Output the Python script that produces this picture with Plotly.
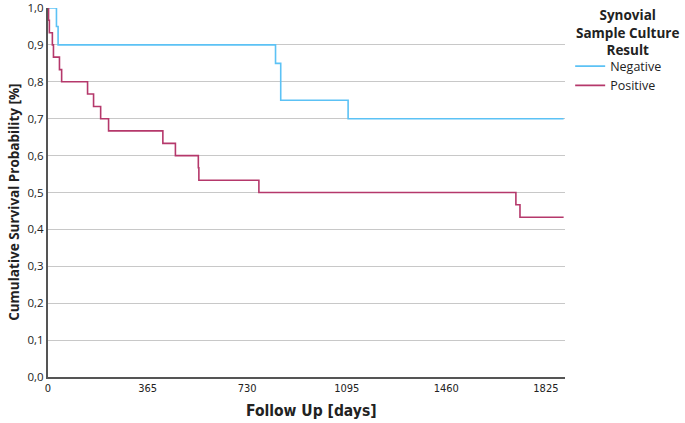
import plotly.graph_objects as go

# Kaplan-Meier step data
neg_days = [0, 31, 37, 834, 853, 1100, 1890]
neg_surv = [1.0, 0.95, 0.90, 0.85, 0.75, 0.70, 0.70]

pos_days = [0, 2, 5, 16, 20, 42, 50, 145, 167, 193, 222, 421, 467, 551, 553, 773, 1715, 1730, 1890]
pos_surv = [1.0, 0.967, 0.933, 0.900, 0.867, 0.833, 0.800, 0.767, 0.733, 0.700,
            0.667, 0.633, 0.600, 0.567, 0.533, 0.500, 0.467, 0.433, 0.433]

x_ticks = [0, 365, 730, 1095, 1460, 1825]
y_ticks = [0.0, 0.1, 0.2, 0.3, 0.4, 0.5, 0.6, 0.7, 0.8, 0.9, 1.0]
series_names = ["Negative", "Positive"]
legend_title_lines = ["Synovial", "Sample Culture", "Result"]
colors = ["#5cc2f5", "#b5386b"]

COND = "DejaVu Sans Condensed, Liberation Sans Narrow, sans-serif"

fig = go.Figure()
fig.add_trace(go.Scatter(x=neg_days, y=neg_surv, mode="lines", name=series_names[0],
                         line=dict(shape="hv", color=colors[0], width=1.6)))
fig.add_trace(go.Scatter(x=pos_days, y=pos_surv, mode="lines", name=series_names[1],
                         line=dict(shape="hv", color=colors[1], width=1.6)))

# legend title as one centered multi-line text
fig.add_annotation(text="<b>" + "<br>".join(legend_title_lines) + "</b>",
                   xref="paper", yref="paper", x=1.12, y=1.012, xanchor="center", yanchor="top",
                   align="center", showarrow=False, font=dict(size=13.5, color="#222"))

# axis titles
fig.add_annotation(text="<b>Follow Up [days]</b>", xref="paper", yref="paper",
                   x=0.51, y=-0.093, xanchor="center", yanchor="middle", showarrow=False,
                   font=dict(family=COND, size=15.5, color="#222"))
fig.add_annotation(text="<b>Cumulative Survival Probability [%]</b>", xref="paper", yref="paper",
                   x=-0.065, y=0.473, xanchor="center", yanchor="middle", textangle=-90,
                   showarrow=False, font=dict(size=13.5, color="#222"))

fig.update_layout(
    width=685, height=423,
    margin=dict(l=48, r=120, t=8, b=46, autoexpand=False),
    paper_bgcolor="white", plot_bgcolor="white",
    separators=", ",
    font=dict(family="Open Sans, DejaVu Sans, sans-serif", color="#222"),
    legend=dict(
        x=1.01, xanchor="left", y=0.882, yanchor="top",
        font=dict(size=12.5, color="#222"),
        itemwidth=30, tracegroupgap=0,
        bgcolor="rgba(0,0,0,0)",
    ),
    xaxis=dict(
        range=[0, 1895], tickvals=x_ticks, ticks="",
        showgrid=False, zeroline=False,
        showline=True, linecolor="#555", linewidth=2,
        tickfont=dict(family=COND, size=11, color="#222"),
    ),
    yaxis=dict(
        range=[0, 1.0], tickvals=y_ticks, tickformat=".1f", ticks="",
        ticklabeloverflow="allow",
        showgrid=True, gridcolor="#c8c8c8", gridwidth=1.3,
        zeroline=False,
        showline=True, linecolor="#555", linewidth=2,
        tickfont=dict(size=11.5, color="#222"),
    ),
)

fig.write_html("out.html")
